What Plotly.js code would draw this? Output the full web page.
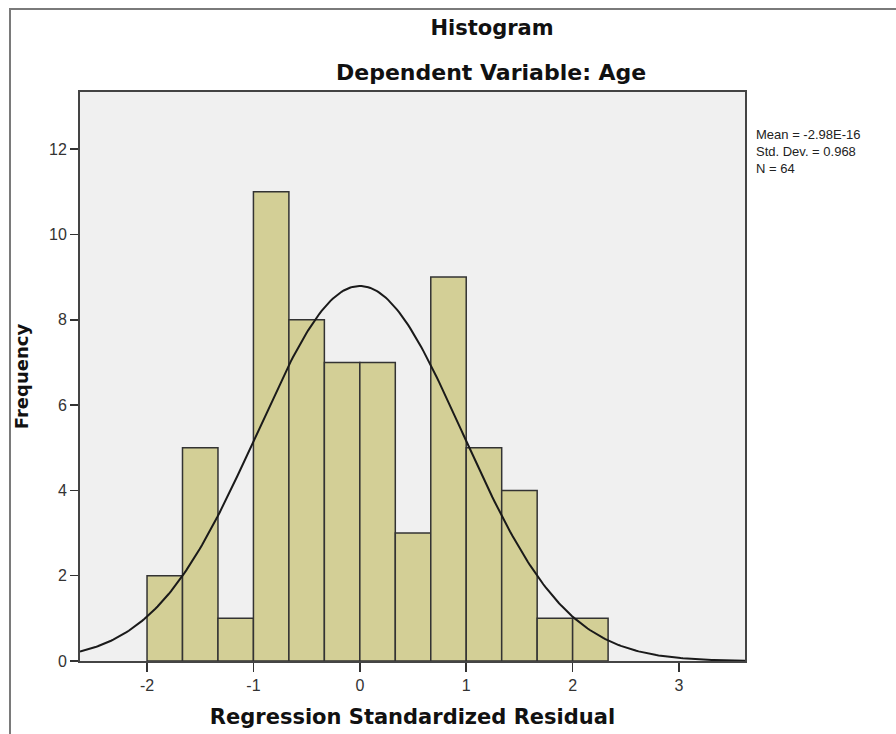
<!DOCTYPE html>
<html>
<head>
<meta charset="utf-8">
<script src="https://cdn.plot.ly/plotly-3.0.1.min.js"></script>
<style>
  html, body { margin: 0; padding: 0; background: #ffffff; }
  #wrap { position: relative; width: 896px; height: 734px; }
  #chart { position: absolute; left: 0; top: 0; width: 896px; height: 734px; }
  #frame { position: absolute; left: 9px; top: 8px; right: 0; bottom: 0;
           border-top: 2px solid #7a7a7a; border-left: 2px solid #7a7a7a;
           pointer-events: none; }
</style>
</head>
<body>
<div id="wrap">
  <div id="chart"></div>
  <div id="frame"></div>
</div>
<script>
// ---- data ----
const binStart = -2.0;          // left edge of first bin
const binWidth = 1 / 3;         // bin width
const counts = [2, 5, 1, 11, 8, 7, 7, 3, 9, 5, 4, 1, 1];
const statMean = -2.98e-16;
const statStd = 0.968;
const statN = 64;
const statLabels = ["Mean = -2.98E-16", "Std. Dev. = 0.968", "N = 64"];
const xTickVals = [-2, -1, 0, 1, 2, 3];
const yTickVals = [0, 2, 4, 6, 8, 10, 12];
const xRange = [-2.63, 3.62];
const yRange = [0, 13.34];

// ---- derived ----
const binCenters = counts.map((c, i) => binStart + binWidth * (i + 0.5));

// fitted normal curve scaled to the histogram (N * binWidth * pdf)
const curveX = [];
const curveY = [];
const steps = 300;
for (let i = 0; i <= steps; i++) {
  const x = xRange[0] + (xRange[1] - xRange[0]) * i / steps;
  const z = (x - statMean) / statStd;
  const pdf = Math.exp(-0.5 * z * z) / (statStd * Math.sqrt(2 * Math.PI));
  curveX.push(x);
  curveY.push(statN * binWidth * pdf);
}

const tickFont = { family: "Liberation Sans, Arial, sans-serif", size: 16, color: "#333333" };
const titleFont = { family: "DejaVu Sans, Verdana, sans-serif", size: 21, color: "#111111", weight: "bold" };

const traces = [
  {
    type: "bar",
    x: binCenters,
    y: counts,
    width: binWidth,
    marker: { color: "#d3cf96", line: { color: "#333333", width: 1.5 } },
    hoverinfo: "x+y",
    showlegend: false
  },
  {
    type: "scatter",
    mode: "lines",
    x: curveX,
    y: curveY,
    line: { color: "#1a1a1a", width: 2 },
    hoverinfo: "skip",
    showlegend: false
  }
];

const annotations = [
  {
    text: "Dependent Variable: Age",
    xref: "paper", yref: "paper",
    x: (491 - 80) / 665, y: 1 + (92 - 73) / 569,
    xanchor: "center", yanchor: "middle",
    showarrow: false,
    font: Object.assign({}, titleFont, { size: 22 })
  },
  {
    text: statLabels.join("<br>"),
    xref: "paper", yref: "paper",
    x: (754 - 80) / 665, y: 1 - (125 - 92) / 569,
    xanchor: "left", yanchor: "top", align: "left",
    showarrow: false,
    font: { family: "Liberation Sans, Arial, sans-serif", size: 13, color: "#222222" }
  }
];

const layout = {
  width: 896,
  height: 734,
  margin: { l: 80, r: 151, t: 92, b: 73, pad: 0 },
  paper_bgcolor: "rgba(0,0,0,0)",
  plot_bgcolor: "#f0f0f0",
  bargap: 0,
  title: {
    text: "Histogram",
    font: titleFont,
    xref: "container", yref: "container",
    x: 492 / 896, y: 1 - 28 / 734,
    xanchor: "center", yanchor: "middle"
  },
  xaxis: {
    range: xRange,
    tickvals: xTickVals,
    ticktext: xTickVals.map(String),
    ticks: "outside", ticklen: 9, tickwidth: 1.5, tickcolor: "#333333",
    showgrid: false, zeroline: false,
    showline: true, mirror: true, linecolor: "#444444", linewidth: 2,
    tickfont: tickFont,
    title: { text: "Regression Standardized Residual", font: titleFont, standoff: 16 }
  },
  yaxis: {
    range: yRange,
    tickvals: yTickVals,
    ticktext: yTickVals.map(String),
    ticks: "outside", ticklen: 8, tickwidth: 1.5, tickcolor: "#333333",
    showgrid: false, zeroline: false,
    showline: true, mirror: true, linecolor: "#444444", linewidth: 2,
    tickfont: tickFont,
    title: { text: "Frequency", font: Object.assign({}, titleFont, { size: 18 }), standoff: 16 }
  },
  annotations: annotations
};

Plotly.newPlot("chart", traces, layout, { displayModeBar: false, staticPlot: true });
</script>
</body>
</html>
